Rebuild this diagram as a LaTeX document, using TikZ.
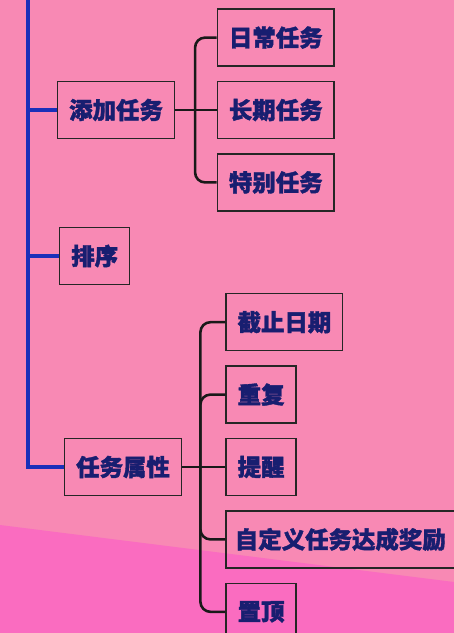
\documentclass[tikz,border=0pt]{standalone}
\usepackage{fontspec}
\newfontfamily\cjk{Noto Sans CJK SC}[BoldFeatures={FakeBold=1.6}]
\usepackage{tikz}
\usetikzlibrary{positioning,calc}
\definecolor{pinkbg}{RGB}{248,137,180}
\definecolor{magbg}{RGB}{250,108,192}
\definecolor{navytext}{RGB}{24,30,112}
\definecolor{trunkblue}{RGB}{26,48,185}

\begin{document}
\begin{tikzpicture}[x=0.03cm, y=-0.03cm,
	box/.style={rectangle, draw=black!85, line width=1.2pt, minimum height=1.71cm, minimum width=#1, inner sep=2pt, text=navytext, font=\cjk\bfseries\fontsize{20}{23}\selectfont, align=center},
	box/.default=3.5cm,
	trunk/.style={draw=trunkblue, line width=2.6pt},
	branch/.style={draw=black!90, line width=2.2pt, rounded corners=0.3cm}]

%--sfondo
\fill[pinkbg] (0,0) rectangle (454,633);
\fill[magbg] (0,525) -- (454,582) -- (454,633) -- (0,633) -- cycle;
\useasboundingbox (0,0) rectangle (454,633);

%--nodi principali
\node [box, anchor=west] (add) at (57,110) {添加任务};
\node [box=2.1cm, anchor=west] (sort) at (59,256) {排序};
\node [box, anchor=west] (props) at (64,467) {任务属性};

%--ramo di add
\node [box, right=1.25cm of add] (long) {长期任务};
\node [box, above=0.42cm of long] (daily) {日常任务};
\node [box, below=0.42cm of long] (special) {特别任务};

\coordinate (addbar) at ($(add.east)+(0.6cm,0)$);
\draw[branch] (add.east) -- (long.west);
\draw[branch] (addbar) |- (daily.west);
\draw[branch] (addbar) |- (special.west);

%--ramo di props
\node [box=2.1cm, right=1.3cm of props] (remind) {提醒};
\node [box=2.1cm, above=0.42cm of remind.north west, anchor=south west] (repeat) {重复};
\node [box, above=0.42cm of repeat.north west, anchor=south west] (deadline) {截止日期};
\node [box=6.85cm, below=0.42cm of remind.south west, anchor=north west] (reward) {自定义任务达成奖励};
\node [box=2.1cm, below=0.42cm of reward.south west, anchor=north west] (pintop) {置顶};

\coordinate (propsbar) at ($(props.east)+(0.55cm,0)$);
\draw[branch] (props.east) -- (remind.west);
\draw[branch] (propsbar) |- (deadline.west);
\draw[branch] (propsbar) |- (repeat.west);
\draw[branch] (propsbar) |- (reward.west);
\draw[branch] (propsbar) |- (pintop.west);

%--tronco
\coordinate (root) at (28,0);
\draw[trunk] (root) |- (props.west);
\draw[trunk] (root |- add.west) -- (add.west);
\draw[trunk] (root |- sort.west) -- (sort.west);

\end{tikzpicture}
\end{document}
